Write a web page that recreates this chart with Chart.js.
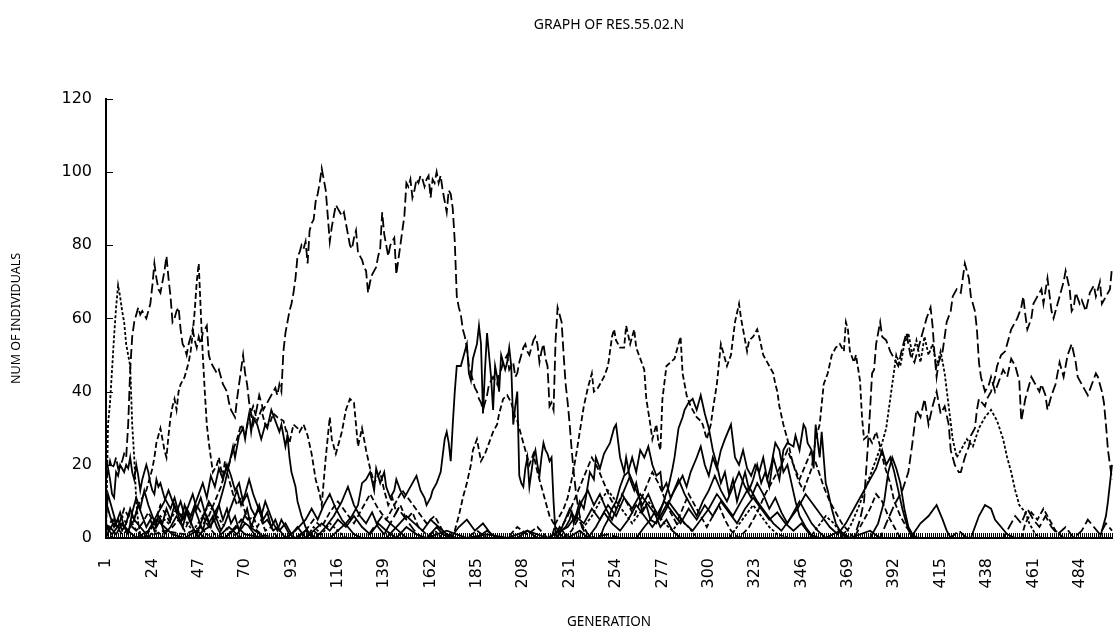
<!DOCTYPE html>
<html><head><meta charset="utf-8">
<script src="https://cdn.jsdelivr.net/npm/chart.js@4.4.1/dist/chart.umd.min.js"></script>
<style>html,body{margin:0;padding:0;background:#fff}#wrap{width:1114px;height:635px}</style>
</head><body><div id="wrap"><canvas id="c" width="1114" height="635"></canvas></div>
<script>
const chartTitle = 'GRAPH OF RES.55.02.N';
const xTitle = 'GENERATION';
const yTitle = 'NUM OF INDIVIDUALS';
const xTickLabels = [1,24,47,70,93,116,139,162,185,208,231,254,277,300,323,346,369,392,415,438,461,484];
const genMin = 1, genMax = 500;
const yMin = 0, yMax = 120, yStep = 20;

// each series: [generation, individuals]
const A = [[1,0],[2,31],[3,37],[4,46],[5,55],[6,63],[7,69],[8,66],[9,62],[10,59],[11,53],[12,50],[13,47],[14,31],[15,22],[16,10],[17,4],[18,1],[20,0],[26,2],[30,0],[45,0],[48,3],[51,1],[54,0],[500,0]];
const C = [[1,16],[2,18],[3,21],[4,19],[5,20],[6,22],[7,19],[8,20],[9,21],[10,23],[11,22],[12,31],[13,46],[14,55],[15,59],[16,61],[17,63],[18,61],[19,62],[20,61],[21,60],[22,62],[23,64],[24,69],[25,75],[26,71],[27,68],[28,67],[29,70],[30,73],[31,77],[32,71],[33,66],[34,59],[35,60],[36,62],[37,63],[38,57],[39,53],[40,52],[41,50],[42,53],[43,55],[44,57],[45,54],[46,52],[47,55],[48,53],[49,56],[50,57],[51,58],[52,50],[53,48],[54,47],[55,46],[56,45],[57,46],[58,44],[59,42],[60,41],[61,40],[62,37],[63,35],[64,34],[65,33],[66,38],[67,42],[68,46],[69,50],[70,45],[71,42],[72,37],[73,34],[74,31],[75,33],[76,36],[77,39],[78,37],[79,35],[80,36],[81,37],[82,38],[83,39],[84,40],[85,41],[86,39],[87,42],[88,40],[89,51],[90,56],[91,59],[92,62],[93,64],[94,67],[95,71],[96,77],[97,78],[98,80],[99,79],[100,81],[101,75],[102,84],[103,86],[104,87],[105,92],[106,94],[107,97],[108,101],[109,98],[110,95],[111,88],[112,81],[113,85],[114,88],[115,91],[116,90],[117,89],[118,88],[119,89],[120,86],[121,83],[122,80],[123,79],[124,82],[125,84],[126,78],[127,77],[128,76],[129,74],[130,73],[131,67],[132,70],[133,72],[134,73],[135,74],[136,77],[137,79],[138,89],[139,83],[140,80],[141,77],[142,80],[143,81],[144,82],[145,72],[146,76],[147,80],[148,84],[149,88],[150,97],[151,96],[152,98],[153,93],[154,95],[155,98],[156,97],[157,99],[158,98],[159,96],[160,98],[161,99],[162,93],[163,98],[164,97],[165,100],[166,97],[167,99],[168,95],[169,92],[170,89],[171,95],[172,94],[173,90],[174,81],[175,66],[176,63],[177,61],[178,57],[179,55],[180,52],[181,47],[182,45],[183,43],[184,41],[185,40],[186,38],[187,37],[188,35],[189,37],[190,39],[191,42],[192,43],[193,44],[194,43],[195,42],[196,45],[197,46],[198,48],[199,49],[200,50],[201,46],[202,47],[203,48],[204,44],[205,45],[206,48],[207,50],[208,52],[209,53],[210,51],[211,50],[212,52],[213,54],[214,55],[215,53],[216,48],[217,51],[218,53],[219,49],[220,47],[221,36],[222,37],[223,35],[224,54],[225,63],[226,61],[227,59],[228,50],[229,42],[230,37],[231,31],[232,24],[233,18],[234,13],[235,9],[236,6],[237,3],[238,2],[240,0],[250,1],[256,0],[500,0]];
const B = [[1,4],[3,2],[5,5],[7,3],[9,6],[11,4],[13,7],[15,5],[17,9],[19,11],[21,13],[22,15],[24,19],[25,22],[26,26],[27,28],[28,30],[29,27],[30,24],[31,22],[32,28],[33,33],[34,36],[35,38],[36,35],[37,40],[38,42],[39,43],[40,44],[41,46],[42,48],[43,51],[44,56],[45,62],[46,70],[47,75],[48,62],[49,50],[50,40],[51,31],[52,26],[53,22],[54,18],[55,19],[56,20],[57,22],[58,19],[59,17],[60,21],[61,18],[62,16],[63,14],[64,12],[66,9],[68,11],[70,7],[72,5],[74,6],[76,3],[78,5],[80,2],[83,3],[86,0],[100,0],[104,2],[108,0],[500,0]];
const F = [[1,2],[5,4],[9,1],[14,3],[20,0],[30,2],[40,1],[48,3],[52,6],[55,10],[58,14],[60,18],[62,20],[64,24],[66,27],[68,31],[70,28],[72,33],[74,36],[76,32],[78,35],[80,31],[82,31],[84,34],[86,33],[89,32],[91,28],[92,26],[94,31],[96,30],[97,29],[99,31],[101,28],[103,23],[105,16],[107,12],[108,9],[110,22],[112,33],[113,27],[115,23],[116,25],[118,29],[120,35],[122,38],[124,37],[125,31],[126,25],[128,30],[130,24],[132,19],[134,15],[137,18],[139,13],[141,9],[143,11],[145,7],[147,9],[150,5],[153,7],[156,3],[160,1],[165,0],[228,0],[232,2],[235,5],[238,3],[241,0],[500,0]];
const G = [[1,3],[4,1],[8,4],[12,2],[16,0],[22,2],[26,5],[30,3],[34,1],[40,0],[46,2],[50,0],[60,0],[66,3],[70,1],[80,0],[96,0],[100,2],[104,0],[112,0],[116,2],[120,4],[123,6],[126,9],[128,15],[130,16],[132,18],[134,13],[135,19],[137,15],[139,18],[140,14],[142,11],[144,13],[145,16],[147,13],[149,11],[151,13],[153,15],[155,17],[157,13],[159,11],[160,9],[162,11],[163,13],[165,15],[167,18],[169,27],[170,29],[171,26],[172,21],[173,31],[174,40],[175,47],[176,47],[177,47],[178,49],[179,51],[180,53],[181,45],[182,43],[183,49],[184,51],[185,53],[186,58],[187,53],[188,34],[189,46],[190,56],[191,50],[192,44],[193,35],[194,47],[195,44],[196,40],[197,50],[198,48],[199,46],[200,48],[201,52],[202,47],[203,31],[204,36],[205,40],[206,17],[207,15],[208,14],[209,19],[210,22],[211,14],[212,18],[213,22],[214,24],[215,20],[216,17],[217,22],[218,26],[219,24],[220,23],[221,21],[222,22],[223,10],[224,1],[226,3],[230,0],[236,2],[240,0],[500,0]];
const S7 = [[1,0],[170,0],[174,2],[176,6],[178,11],[180,15],[182,20],[183,24],[185,27],[186,24],[187,21],[189,23],[191,26],[193,29],[195,31],[196,34],[198,38],[200,39],[202,37],[204,33],[205,32],[207,28],[209,24],[211,20],[213,23],[215,18],[217,14],[219,10],[221,6],[224,3],[228,0],[500,0]];
const S10 = [[1,0],[222,0],[224,4],[226,6],[228,8],[230,11],[232,16],[234,22],[236,29],[238,36],[240,41],[242,45],[243,40],[245,41],[246,42],[248,44],[250,47],[252,55],[253,57],[254,54],[256,52],[258,52],[259,58],[261,53],[263,57],[264,52],[266,49],[268,46],[269,38],[271,31],[272,27],[274,31],[275,26],[276,24],[277,38],[279,47],[281,48],[283,49],[284,51],[286,55],[287,45],[289,39],[291,36],[293,34],[294,33],[296,32],[297,31],[299,27],[301,31],[302,35],[304,42],[306,53],[307,51],[309,47],[311,50],[313,59],[315,64],[316,60],[317,57],[319,51],[320,54],[322,55],[324,57],[325,55],[327,50],[329,48],[330,47],[332,45],[333,42],[334,40],[335,36],[337,31],[339,27],[341,22],[343,18],[345,15],[347,13],[349,16],[351,19],[353,27],[355,31],[357,42],[359,45],[361,50],[363,52],[365,53],[367,51],[368,59],[369,57],[370,51],[372,48],[373,50],[375,43],[376,33],[377,27],[379,28],[381,26],[383,29],[385,25],[387,20],[390,15],[392,10],[395,6],[398,3],[402,0],[500,0]];
const S14 = [[1,0],[372,0],[375,5],[377,10],[378,18],[379,26],[380,35],[381,45],[382,46],[383,53],[385,59],[386,55],[388,54],[390,51],[392,49],[394,47],[396,52],[398,56],[400,50],[402,48],[404,52],[406,56],[408,60],[410,63],[411,58],[412,50],[413,44],[414,48],[416,51],[418,59],[420,62],[421,66],[423,68],[425,67],[426,71],[427,75],[429,71],[430,66],[432,62],[433,57],[434,48],[435,44],[437,40],[439,42],[440,44],[442,40],[444,43],[446,46],[448,44],[450,49],[452,47],[454,43],[455,32],[457,38],[459,42],[460,44],[462,42],[464,40],[465,42],[467,39],[468,35],[470,39],[472,42],[474,48],[476,44],[478,50],[480,53],[482,48],[483,44],[485,42],[487,40],[488,39],[490,42],[492,45],[493,44],[495,40],[496,37],[497,31],[498,24],[499,20],[500,16]];
const S15 = [[1,0],[365,0],[370,3],[374,8],[378,14],[382,20],[386,26],[388,30],[389,34],[391,42],[393,50],[395,47],[397,53],[399,56],[401,50],[403,54],[405,48],[407,55],[409,50],[411,53],[413,47],[415,51],[417,45],[419,36],[421,27],[423,22],[425,24],[428,27],[431,25],[434,30],[437,33],[440,35],[443,32],[446,27],[448,22],[450,18],[452,13],[454,9],[457,7],[459,4],[462,1],[465,0],[500,0]];
const S17 = [[1,0],[385,0],[388,4],[392,9],[396,13],[399,18],[401,26],[403,35],[405,33],[407,38],[409,31],[411,36],[413,40],[415,34],[417,36],[419,31],[420,24],[422,20],[424,18],[425,18],[427,22],[429,25],[430,28],[432,30],[433,35],[434,38],[437,36],[438,38],[440,40],[442,44],[443,47],[445,50],[447,51],[448,53],[450,57],[452,59],[453,60],[455,63],[456,66],[457,61],[458,57],[460,60],[461,64],[463,66],[465,68],[466,64],[468,71],[470,62],[471,60],[473,64],[475,68],[476,70],[477,73],[479,68],[480,62],[481,63],[482,67],[484,64],[485,65],[487,62],[489,67],[490,68],[491,69],[492,66],[494,70],[495,64],[496,65],[497,66],[499,68],[500,74]];
const S20 = [[1,0],[224,0],[227,2],[229,3],[231,5],[232,7],[233,4],[235,8],[236,10],[238,8],[239,11],[241,18],[243,16],[244,22],[246,19],[248,23],[249,24],[251,26],[253,30],[254,31],[256,22],[258,18],[259,22],[261,16],[263,13],[264,15],[266,10],[267,7],[269,9],[271,5],[273,7],[276,3],[279,5],[282,2],[286,0],[500,0]];
const S21 = [[1,0],[264,0],[268,3],[271,5],[274,4],[277,9],[280,14],[282,19],[283,22],[285,30],[287,33],[288,35],[290,37],[292,38],[294,35],[296,39],[298,34],[300,30],[302,24],[304,20],[306,15],[308,18],[310,12],[312,16],[314,10],[316,14],[318,18],[320,13],[322,16],[324,20],[326,15],[328,18],[330,14],[332,22],[334,18],[335,16],[337,24],[339,26],[342,25],[343,28],[345,24],[347,31],[348,30],[349,26],[351,24],[352,19],[353,31],[355,22],[356,29],[358,15],[359,13],[361,8],[363,4],[365,2],[368,0],[500,0]];
const S24 = [[1,0],[46,0],[49,2],[52,3],[55,5],[57,9],[59,13],[60,15],[62,20],[64,25],[65,22],[67,28],[69,30],[70,27],[71,31],[72,34],[73,29],[74,33],[76,31],[78,27],[80,31],[81,30],[83,35],[85,32],[87,29],[88,31],[90,25],[91,28],[92,22],[93,18],[95,14],[96,10],[98,6],[100,3],[102,1],[105,0],[500,0]];
const S28 = [[1,0],[246,0],[248,3],[250,5],[252,8],[254,10],[256,14],[258,17],[260,18],[262,22],[264,18],[266,24],[268,22],[270,25],[272,20],[274,17],[276,18],[277,13],[279,15],[281,11],[283,13],[285,15],[287,17],[289,14],[291,18],[294,22],[296,25],[298,20],[300,17],[302,22],[304,19],[306,24],[308,27],[311,31],[313,22],[315,20],[317,24],[319,19],[321,17],[323,20],[325,18],[327,22],[329,16],[331,20],[333,26],[335,24],[337,18],[339,20],[341,15],[343,10],[345,6],[348,3],[352,0],[500,0]];
const S8 = [[1,22],[2,19],[3,16],[4,12],[5,11],[6,18],[7,17],[8,20],[9,19],[10,18],[11,20],[12,19],[13,22],[14,18],[15,16],[16,20],[17,17],[18,13],[19,16],[20,18],[21,20],[22,18],[23,15],[24,13],[25,12],[26,16],[27,14],[28,15],[29,13],[30,11],[31,10],[33,8],[35,11],[37,7],[39,5],[41,8],[43,6],[45,9],[47,12],[49,15],[51,11],[53,17],[55,14],[57,19],[59,16],[61,20],[63,17],[65,13],[67,15],[69,10],[71,12],[73,8],[75,6],[77,8],[79,4],[81,5],[84,2],[86,3],[90,0],[500,0]];
const L1 = [[1,10],[3,6],[5,3],[7,5],[9,2],[11,4],[13,8],[15,5],[17,9],[19,6],[21,3],[23,5],[25,2],[27,6],[29,4],[31,8],[33,5],[35,9],[37,6],[39,3],[41,7],[43,4],[45,8],[47,5],[49,2],[51,6],[53,3],[55,7],[57,9],[59,5],[61,8],[63,4],[65,6],[67,2],[69,5],[71,8],[73,3],[75,6],[77,9],[79,5],[81,7],[83,3],[85,5],[87,2],[90,4],[93,1],[96,3],[100,0],[104,2],[108,4],[112,2],[116,5],[120,3],[124,6],[128,3],[132,1],[136,4],[140,2],[145,0],[150,3],[155,1],[160,0],[170,2],[180,0],[190,1],[200,0],[210,2],[220,0],[230,3],[234,6],[238,4],[242,8],[246,5],[250,9],[254,6],[258,11],[262,8],[266,12],[270,9],[274,6],[278,10],[282,7],[286,4],[290,8],[294,5],[298,9],[302,6],[306,10],[310,7],[314,4],[318,8],[322,11],[326,8],[330,5],[334,7],[338,4],[342,2],[346,4],[350,1],[355,0],[370,0],[380,2],[385,0],[400,0],[405,4],[409,6],[413,9],[416,5],[418,2],[420,0],[500,0]];
const L2 = [[1,5],[2,12],[4,8],[6,4],[8,7],[10,3],[12,1],[14,7],[16,11],[18,8],[20,13],[22,9],[24,6],[26,3],[28,5],[30,1],[33,3],[36,6],[38,4],[40,9],[42,6],[44,3],[46,1],[48,4],[50,7],[52,10],[54,8],[56,5],[58,2],[60,4],[62,7],[64,10],[66,13],[68,9],[70,12],[72,16],[74,12],[76,9],[78,6],[80,10],[82,7],[84,4],[86,2],[88,5],[90,3],[92,1],[95,0],[100,2],[105,0],[110,3],[114,6],[118,10],[121,14],[124,9],[127,6],[130,4],[133,7],[136,3],[139,1],[142,4],[146,2],[150,0],[160,0],[165,3],[168,1],[172,0],[176,3],[180,5],[184,2],[188,4],[192,1],[196,0],[205,0],[210,2],[215,0],[225,0],[228,4],[231,8],[234,5],[237,10],[240,13],[243,9],[246,12],[249,8],[252,5],[255,9],[258,13],[261,17],[264,13],[267,9],[270,12],[273,8],[276,5],[279,8],[282,12],[285,16],[288,12],[291,9],[294,6],[297,10],[300,13],[303,17],[306,13],[309,10],[312,14],[315,18],[318,14],[321,11],[324,15],[327,12],[330,8],[333,11],[336,7],[339,4],[342,7],[345,10],[348,7],[351,4],[354,2],[358,0],[365,2],[370,0],[380,0],[384,4],[387,10],[389,18],[391,22],[393,19],[395,15],[397,8],[399,3],[402,0],[430,0],[432,3],[434,6],[437,9],[440,8],[442,5],[445,3],[448,1],[452,0],[494,0],[495,2],[497,6],[498,10],[500,20]];
const L3 = [[1,2],[4,5],[7,3],[10,8],[13,5],[16,2],[19,4],[22,7],[25,4],[28,9],[31,6],[34,3],[37,5],[40,2],[43,6],[46,9],[49,6],[52,3],[55,1],[60,0],[65,3],[70,6],[74,3],[78,1],[85,0],[95,0],[100,2],[104,5],[108,3],[112,7],[116,10],[120,7],[124,4],[128,8],[132,12],[136,8],[140,5],[144,9],[148,13],[152,10],[156,7],[160,4],[164,6],[168,2],[172,0],[180,0],[185,2],[190,0],[200,0],[205,3],[210,1],[215,3],[220,0],[226,2],[230,6],[233,10],[236,14],[239,18],[242,22],[245,19],[248,15],[251,11],[254,8],[257,12],[260,9],[263,6],[266,10],[269,14],[272,18],[275,15],[278,11],[281,7],[284,4],[287,8],[290,12],[293,9],[296,6],[299,3],[302,6],[305,9],[308,5],[311,2],[315,0],[320,3],[324,7],[328,12],[332,16],[336,20],[339,24],[342,20],[345,16],[348,20],[351,24],[354,19],[357,14],[360,10],[363,7],[366,4],[369,2],[372,0],[376,4],[380,8],[383,12],[386,10],[389,6],[392,3],[395,0],[455,0],[457,4],[460,7],[463,5],[466,8],[469,5],[472,2],[476,0],[500,0]];
const L4 = [[1,0],[3,3],[6,1],[9,4],[12,2],[15,5],[18,3],[21,1],[24,4],[27,7],[30,10],[32,13],[34,10],[36,7],[38,10],[40,6],[42,9],[44,12],[46,8],[48,11],[50,7],[52,4],[54,6],[56,3],[58,1],[62,3],[66,1],[70,4],[75,2],[80,0],[90,0],[95,2],[100,5],[103,8],[106,5],[109,9],[112,12],[115,8],[118,5],[121,3],[124,1],[128,0],[140,0],[145,3],[150,6],[154,4],[158,2],[162,5],[166,3],[170,1],[175,0],[185,0],[190,2],[195,0],[240,0],[244,3],[248,7],[252,4],[256,2],[260,5],[264,9],[268,6],[272,3],[276,6],[280,10],[284,7],[288,4],[292,2],[296,5],[300,8],[304,12],[308,9],[312,6],[316,10],[320,14],[324,10],[328,7],[332,4],[336,2],[340,5],[344,8],[348,12],[352,9],[356,6],[360,3],[364,1],[368,4],[372,8],[376,12],[380,16],[383,19],[386,24],[388,20],[390,22],[392,18],[394,13],[396,8],[398,4],[400,1],[404,0],[500,0]];
const L5 = [[1,1],[5,0],[20,0],[24,3],[28,6],[32,4],[36,8],[40,5],[44,2],[48,5],[52,9],[56,6],[60,3],[64,1],[70,0],[100,0],[104,3],[108,1],[112,4],[116,2],[120,0],[160,0],[164,2],[168,0],[235,0],[238,3],[242,6],[246,10],[250,13],[254,10],[258,7],[262,4],[266,7],[270,10],[274,7],[278,4],[282,2],[286,5],[290,3],[294,0],[310,0],[314,3],[318,6],[322,9],[326,6],[330,3],[334,1],[340,0],[350,0],[354,3],[358,6],[362,4],[366,1],[370,0],[500,0]];
const L6 = [[1,0],[60,0],[64,2],[68,5],[72,3],[76,0],[130,0],[134,3],[138,6],[142,4],[146,8],[150,5],[154,2],[158,0],[420,0],[424,2],[428,0],[446,0],[449,3],[452,6],[455,4],[458,8],[461,5],[464,3],[467,6],[470,3],[473,1],[477,3],[481,0],[485,2],[488,5],[491,3],[494,1],[497,4],[500,2]];

// line styles (kept apart from the values)
const DASH = { solid: [], ldash: [10,4], dash: [6,3], sdash: [3,2], dot: [3,2] };
const seriesDefs = [
  [L1,'solid'],[L2,'solid'],[L3,'dash'],[L4,'solid'],[L5,'sdash'],[L6,'ldash'],
  [S8,'solid'],[S24,'solid'],[S20,'solid'],[S21,'solid'],[S28,'solid'],
  [A,'sdash'],[B,'dash'],[F,'dash'],[S7,'dash'],[S15,'dot'],[S17,'ldash'],
  [S10,'dash'],[S14,'ldash'],[G,'solid'],[C,'ldash']
];

const innerTicks = {
  id: 'innerTicks',
  afterDraw(chart) {
    const { ctx, chartArea: a, scales: { x, y } } = chart;
    ctx.save();
    ctx.strokeStyle = '#000';
    ctx.lineWidth = 1;
    ctx.beginPath();
    x.ticks.forEach(t => {
      const px = Math.round(x.getPixelForValue(t.value)) + 0.5;
      ctx.moveTo(px, a.bottom); ctx.lineTo(px, a.bottom - 5);
    });
    y.ticks.forEach(t => {
      const py = Math.round(y.getPixelForValue(t.value)) + 0.5;
      ctx.moveTo(a.left, py); ctx.lineTo(a.left + 7, py);
    });
    ctx.stroke();
    ctx.restore();
  }
};

const tickFont = { family: 'DejaVu Sans', size: 16 };
new Chart(document.getElementById('c'), {
  type: 'line',
  data: {
    datasets: seriesDefs.map(([arr, style]) => ({
      data: arr.map(p => ({ x: p[0], y: p[1] })),
      borderColor: '#000',
      borderWidth: 1.8,
      borderDash: DASH[style],
      pointRadius: 0,
      tension: 0,
      fill: false,
      clip: 3
    }))
  },
  options: {
    responsive: false,
    animation: false,
    devicePixelRatio: 1,
    layout: { padding: { left: 0, right: 2, top: 0, bottom: 0 } },
    plugins: {
      legend: { display: false },
      tooltip: { enabled: false },
      title: {
        display: true, text: chartTitle, color: '#000', fullSize: false,
        font: { family: 'Noto Sans', size: 14, weight: 'normal' },
        padding: { top: 17, bottom: 65 }
      }
    },
    scales: {
      x: {
        type: 'linear', min: genMin, max: genMax, offset: false,
        afterBuildTicks: s => {
          const t = [];
          for (let g = genMin; g <= genMax; g++) t.push({ value: g });
          s.ticks = t;
        },
        afterFit: s => { s.height = 97; s.paddingLeft = 0; s.paddingRight = 0; },
        ticks: {
          autoSkip: false, maxRotation: 90, minRotation: 90, padding: 20,
          color: '#000', font: tickFont,
          callback: v => xTickLabels.includes(v) ? String(v) : ''
        },
        grid: { display: true, drawOnChartArea: false, drawTicks: false },
        border: { display: true, color: '#000', width: 2 },
        title: {
          display: true, text: xTitle, color: '#000',
          font: { family: 'Noto Sans', size: 13.5, weight: 'normal' },
          padding: { top: 0, bottom: 5 }
        }
      },
      y: {
        min: yMin, max: yMax,
        afterFit: s => { s.width = 106; s.paddingTop = 0; s.paddingBottom = 0; },
        ticks: { stepSize: yStep, padding: 14, color: '#000', font: tickFont },
        grid: { display: true, drawOnChartArea: false, drawTicks: false },
        border: { display: true, color: '#000', width: 2 },
        title: {
          display: true, text: yTitle, color: '#000',
          font: { family: 'Noto Sans', size: 12.5, weight: 'normal' },
          padding: { top: 9, bottom: 0 }
        }
      }
    }
  },
  plugins: [innerTicks]
});
</script>
</body></html>
